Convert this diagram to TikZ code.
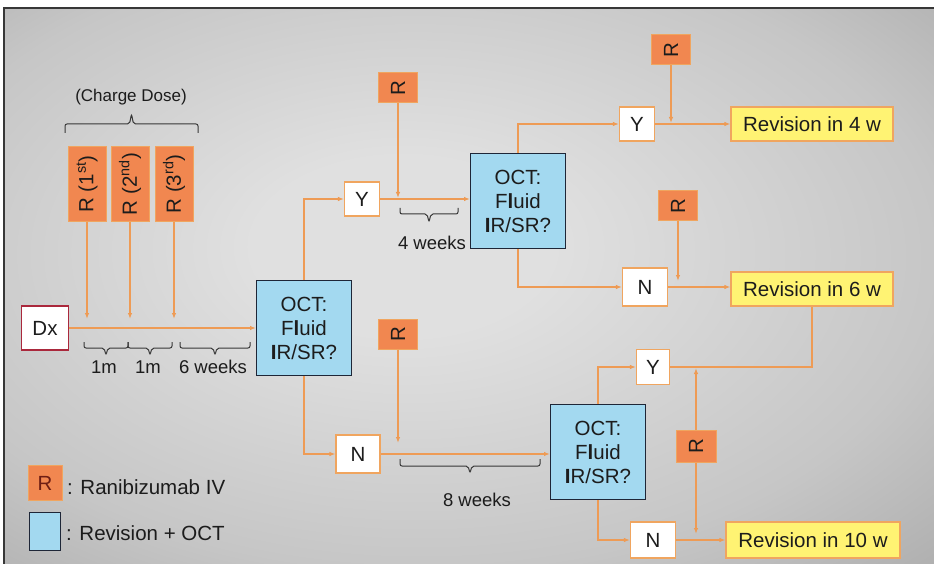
\documentclass[tikz,border=0pt]{standalone}
\usepackage{fontspec}
\setmainfont{Liberation Sans}
\usetikzlibrary{arrows.meta}

\definecolor{bglight}{RGB}{224,224,224}
\definecolor{bgmid}{RGB}{198,198,198}
\definecolor{bgdark}{RGB}{146,146,146}
\definecolor{bgedge}{RGB}{128,130,132}
\definecolor{rfill}{RGB}{241,135,80}
\definecolor{rline}{RGB}{240,165,95}
\definecolor{flowcol}{RGB}{238,155,85}
\definecolor{octfill}{RGB}{163,217,240}
\definecolor{octline}{RGB}{30,38,55}
\definecolor{revfill}{RGB}{255,243,115}
\definecolor{dxline}{RGB}{170,40,60}
\definecolor{legendr}{RGB}{110,30,20}
\definecolor{bracecol}{RGB}{55,55,55}
\definecolor{txtcol}{RGB}{28,28,28}

\pgfdeclareradialshading{bgshade}{\pgfpoint{-4bp}{4bp}}{%
  color(0bp)=(bglight); color(8bp)=(bglight); color(28bp)=(bgmid);
  color(52bp)=(bgdark); color(75bp)=(bgedge)}

\newcommand{\rot}[1]{\rotatebox{90}{#1}}
\newcommand{\drawbracket}[5]{% x1, x2, y, hook, tip
  \draw[brc] (#1, #3) -- (#1, {#3+(#4)}) -- ({(#1+#2)/2-2}, {#3+(#4)})
    -- ({(#1+#2)/2}, {#3+(#4)+(#5)}) -- ({(#1+#2)/2+2}, {#3+(#4)})
    -- (#2, {#3+(#4)}) -- (#2, #3);
}

\tikzset{
  base/.style={inner sep=0pt, text=txtcol, font=\fontsize{20.5}{24}\selectfont},
  rbox/.style={base, draw=rline, fill=rfill, line width=1pt,
    minimum width=39pt, minimum height=30pt},
  dosebox/.style={rbox, minimum width=38pt, minimum height=75pt},
  yn/.style={base, draw=rline, fill=white, line width=1.2pt,
    minimum width=35pt, minimum height=34pt},
  oct/.style={base, draw=octline, fill=octfill, line width=1pt, align=center,
    minimum width=95pt, minimum height=95pt},
  rev/.style={base, draw=rline, fill=revfill, line width=1.2pt,
    minimum width=162pt, minimum height=34pt},
  lbl/.style={base, font=\fontsize{18.5}{22}\selectfont},
  flow/.style={draw=flowcol, line width=1.3pt,
    -{Latex[length=6pt, width=4.5pt]}},
  flowline/.style={draw=flowcol, line width=1.3pt},
  brc/.style={draw=bracecol, line width=1pt, rounded corners=2pt},
}

\begin{document}
\begin{tikzpicture}[x=1pt, y=-1pt]
\useasboundingbox (0,0) rectangle (934,564);

% background
\shade[shading=bgshade] (4,8) rectangle (934,564);
\draw[bracecol, line width=1.5pt] (4,564) -- (4,8) -- (934,8);

% charge dose
\node[base, font=\fontsize{17}{20}\selectfont] (charge) at (131,97) {(Charge Dose)};
\drawbracket{65}{198}{133}{-9}{-10}
\node[dosebox] (R1) at (87,184) {\rot{R (1\textsuperscript{st})}};
\node[dosebox] (R2) at (130,184) {\rot{R (2\textsuperscript{nd})}};
\node[dosebox] (R3) at (174,184) {\rot{R (3\textsuperscript{rd})}};

\node[yn, draw=dxline, minimum width=47pt, minimum height=44pt] (Dx) at (45,328) {Dx};
\node[oct] (OCT1) at (304,328) {OCT:\\F\textbf{l}uid\\\textbf{I}R/SR?};
\draw[flow] (Dx) -- (OCT1);
\foreach \r in {R1, R2, R3}
  \draw[flow, shorten >=9pt] (\r.south) -- (\r.south |- Dx.east);

\drawbracket{84}{128}{342}{6}{7}
\drawbracket{128}{172}{342}{6}{7}
\drawbracket{180}{250}{342}{6}{7}
\node[lbl] (m1) at (104,367) {1m};
\node[lbl] (m2) at (148,367) {1m};
\node[lbl] (w6) at (213,367) {6 weeks};

% upper branch
\node[yn] (Y1) at (362,199) {Y};
\node[rbox] (Ra) at (398,88) {\rot{R}};
\node[oct] (OCT2) at (518,201) {OCT:\\F\textbf{l}uid\\\textbf{I}R/SR?};
\draw[flow] (OCT1.north) |- (Y1.west);
\draw[flow] (Y1.east) -- (Y1.east -| OCT2.west);
\draw[flow, shorten >=1pt] (Ra.south) -- (Ra.south |- Y1.east);
\drawbracket{400}{458}{208}{6}{8}
\node[lbl] (w4) at (432,243) {4 weeks};

\node[yn] (Y2) at (637,124) {Y};
\node[rbox] (Rb) at (671,50) {\rot{R}};
\node[rev] (Rev4) at (812,124) {Revision in 4 w};
\draw[flow] (OCT2.north) |- (Y2.west);
\draw[flow] (Y2.east) -- (Rev4.west);
\draw[flow, shorten >=1pt] (Rb.south) -- (Rb.south |- Y2.east);

\node[yn, minimum width=45pt, minimum height=38pt] (N2) at (645,287) {N};
\node[rbox] (Rc) at (678,206) {\rot{R}};
\node[rev] (Rev6) at (812,289) {Revision in 6 w};
\draw[flow] (OCT2.south) |- (N2.west);
\draw[flow] (N2.east) -- (N2.east -| Rev6.west);
\draw[flow, shorten >=6pt] (Rc.south) -- (Rc.south |- N2.east);

% lower branch
\node[yn, minimum width=44pt, minimum height=38pt] (N1) at (358,454) {N};
\node[rbox] (Rd) at (398,334) {\rot{R}};
\node[oct] (OCT3) at (598,452) {OCT:\\F\textbf{l}uid\\\textbf{I}R/SR?};
\draw[flow] (OCT1.south) |- (N1.west);
\draw[flow] (N1.east) -- (N1.east -| OCT3.west);
\draw[flow, shorten >=11pt] (Rd.south) -- (Rd.south |- N1.east);
\drawbracket{400}{540}{459}{7}{7}
\node[lbl] (w8) at (477,500) {8 weeks};

\node[yn, minimum width=33pt, minimum height=35pt] (Y3) at (653,367) {Y};
\node[yn, minimum width=45pt, minimum height=36pt] (N3) at (653,540) {N};
\node[rbox, minimum width=40pt, minimum height=32pt] (Re) at (696,446) {\rot{R}};
\node[rev, minimum width=174pt, minimum height=36pt] (Rev10) at (813,540) {Revision in 10 w};
\draw[flow] (OCT3.north) |- (Y3.west);
\draw[flow] (OCT3.south) |- (N3.west);
\draw[flowline] (Y3.east) -| (Rev6.south);
\draw[flow] (N3.east) -- (Rev10.west);
\draw[flow, shorten >=1pt] (Re.north) -- (Re.north |- Y3.east);
\draw[flow, shorten >=6pt] (Re.south) -- (Re.south |- N3.east);

% legend
\node[rbox, minimum width=34pt, minimum height=35pt, text=legendr] (lgR) at (45,483) {R};
\node[oct, minimum width=31pt, minimum height=38pt] (lgO) at (45,531) {};
\node[base, anchor=west] (lgRtxt) at (67,487) {: Ranibizumab IV};
\node[base, anchor=west] (lgOtxt) at (66,533) {: Revision + OCT};
\end{tikzpicture}
\end{document}
